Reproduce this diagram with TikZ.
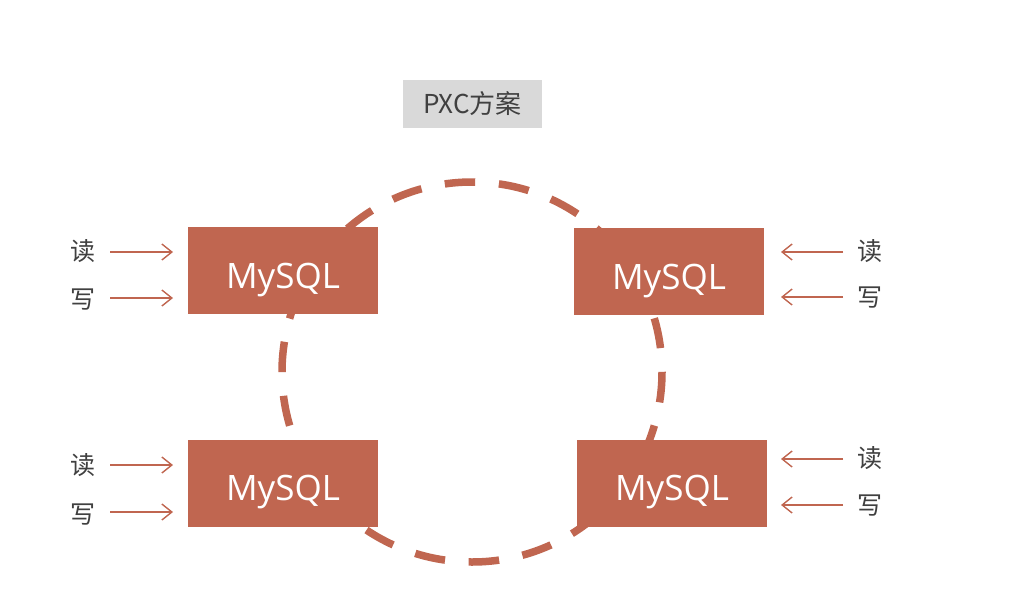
\documentclass[tikz,border=0pt]{standalone}
\usepackage{fontspec}
\setmainfont{Noto Sans CJK SC}
\newfontfamily\latinfont{Open Sans}
\usetikzlibrary{arrows.meta}
\definecolor{terra}{RGB}{192,102,80}
\definecolor{txt}{RGB}{64,64,64}
\definecolor{titlegray}{RGB}{217,217,217}
\tikzset{
  dbbox/.style={fill=terra, draw=none, minimum width=190pt, minimum height=87pt, inner sep=0pt},
  dbtext/.style={text=white, font=\latinfont\fontsize{35}{35}\selectfont, inner sep=0pt, anchor=base},
  lbl/.style={text=txt, font=\fontsize{25}{25}\selectfont, inner sep=0pt},
  rw/.style={draw=terra, line width=1.4pt, -{Straight Barb[length=10pt,width=16pt,line width=1.4pt]}},
  ring/.style={draw=terra, line width=7.5pt, dash pattern=on 30.5pt off 23.76pt, dash phase=0pt}
}
\begin{document}
\begin{tikzpicture}[x=1pt,y=-1pt]
\useasboundingbox (0,0) rectangle (1032,600);
\fill[white] (0,0) rectangle (1032,600);
% ring
\path[ring] (472,372) circle[radius=190];
% title
\node[fill=titlegray, minimum width=139pt, minimum height=48pt, inner sep=0pt, text=txt, font=\fontsize{26}{26}\selectfont] (title) at (472.5,104) {PXC方案};
% boxes
\node[dbbox] (tl) at (283,270.5) {};
\node[dbbox] (tr) at (669,271.5) {};
\node[dbbox] (bl) at (283,483) {};
\node[dbbox] (br) at (672,483) {};
\node[dbtext] (tlt) at ([yshift=-17.5pt]tl.center) {MySQL};
\node[dbtext] (trt) at ([yshift=-17.5pt]tr.center) {MySQL};
\node[dbtext] (blt) at ([yshift=-17.5pt]bl.center) {MySQL};
\node[dbtext] (brt) at ([yshift=-17.5pt]br.center) {MySQL};
% left labels
\node[lbl] (r1) at (83,251) {读};
\node[lbl] (w1) at (83,300) {写};
\node[lbl] (r3) at (83,465) {读};
\node[lbl] (w3) at (83,515) {写};
\coordinate (r1s) at (110,252);
\coordinate (w1s) at (110,298);
\coordinate (r3s) at (110,465);
\coordinate (w3s) at (110,512);
\coordinate (r1e) at (173,252);
\coordinate (w1e) at (173,298);
\coordinate (r3e) at (173,465);
\coordinate (w3e) at (173,512);
\draw[rw] (r1s) -- (r1e);
\draw[rw] (w1s) -- (w1e);
\draw[rw] (r3s) -- (r3e);
\draw[rw] (w3s) -- (w3e);
% right labels
\node[lbl] (r2) at (870,251) {读};
\node[lbl] (w2) at (870,298) {写};
\node[lbl] (r4) at (870,458) {读};
\node[lbl] (w4) at (870,506) {写};
\coordinate (r2s) at (843,252);
\coordinate (w2s) at (843,297);
\coordinate (r4s) at (843,459);
\coordinate (w4s) at (843,505);
\coordinate (r2e) at (781,252);
\coordinate (w2e) at (781,297);
\coordinate (r4e) at (781,459);
\coordinate (w4e) at (781,505);
\draw[rw] (r2s) -- (r2e);
\draw[rw] (w2s) -- (w2e);
\draw[rw] (r4s) -- (r4e);
\draw[rw] (w4s) -- (w4e);
\end{tikzpicture}
\end{document}
